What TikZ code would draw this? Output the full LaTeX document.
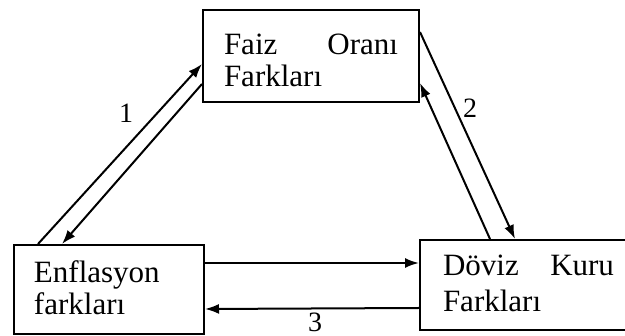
\documentclass[tikz,border=0pt]{standalone}
\usepackage{fontspec}
\setmainfont{Liberation Serif}
\usetikzlibrary{arrows.meta}
\tikzset{
  box/.style={draw, line width=2pt, rectangle, inner xsep=21pt, inner ysep=0pt,
    anchor=base west, align=left, font=\fontsize{31}{32}\selectfont},
  link/.style={line width=2pt, -{Latex[length=14pt,width=10pt]}},
  num/.style={font=\fontsize{28}{30}\selectfont, inner sep=0pt}
}
\begin{document}
\begin{tikzpicture}[x=1pt,y=-1pt]
\useasboundingbox (0,0) rectangle (625,336);
\clip (0,0) rectangle (625,336);

% the three boxes
\node[box, text width=174pt, text height=45pt, text depth=47pt]
  (faiz) at (202,55) {Faiz\hfill Oranı\\Farkları};
\node[box, inner xsep=20pt, text width=150pt, text height=38pt, text depth=51pt]
  (enf) at (13,283) {Enflasyon\\farkları};
\node[box, inner xsep=23pt, text width=171pt, text height=36pt, text depth=54pt,
  font=\fontsize{31}{36}\selectfont]
  (dov) at (419,276) {Döviz\hfill Kuru\\Farkları};

% pair 1: inflation <-> interest rate
\draw[link] ([xshift=25pt]enf.north west) -- ([yshift=-55pt]faiz.north west);
\draw[link] ([yshift=-75pt]faiz.north west) -- ([xshift=49pt]enf.north west);
\node[num] (n1) at (126,113) {1};

% pair 2: interest rate <-> exchange rate
\draw[link] ([yshift=-23pt]faiz.north east) -- ([xshift=96pt]dov.north west);
\draw[link] ([xshift=71pt]dov.north west) -- ([yshift=-74pt]faiz.north east);
\node[num] (n2) at (470,108) {2};

% pair 3: inflation <-> exchange rate
\draw[link] ([yshift=-19pt]enf.north east) -- ([yshift=-24pt]dov.north west);
\draw[link] ([yshift=-69pt]dov.north west) -- ([yshift=-65pt]enf.north east);
\node[num] (n3) at (315,322) {3};
\end{tikzpicture}
\end{document}
